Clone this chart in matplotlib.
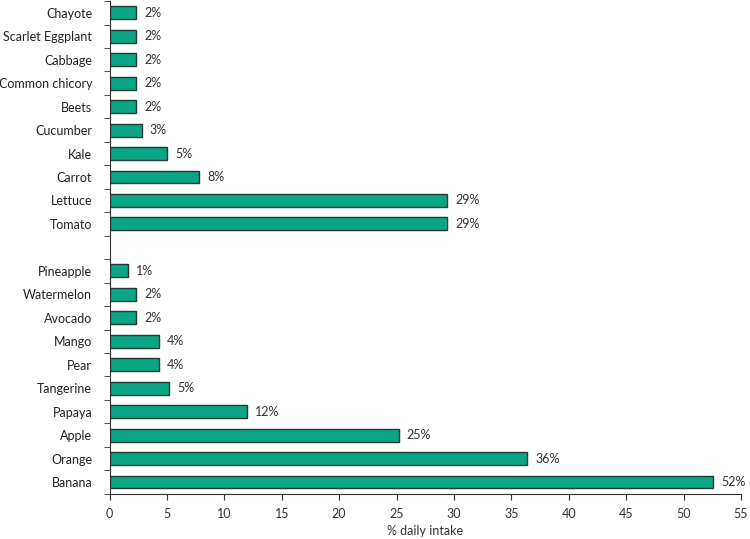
import numpy as np
import matplotlib.pyplot as plt

plt.rcParams['font.family'] = ['Lato', 'DejaVu Sans']

# fruits (bottom group), listed bottom to top
fruits = ['Banana', 'Orange', 'Apple', 'Papaya', 'Tangerine', 'Pear',
          'Mango', 'Avocado', 'Watermelon', 'Pineapple']
fruit_vals = [52.6, 36.4, 25.2, 12.0, 5.2, 4.3, 4.3, 2.3, 2.3, 1.6]
fruit_pct = ['52%', '36%', '25%', '12%', '5%', '4%', '4%', '2%', '2%', '1%']

# vegetables (top group), bottom to top
vegs = ['Tomato', 'Lettuce', 'Carrot', 'Kale', 'Cucumber', 'Beets',
        'Common chicory', 'Cabbage', 'Scarlet Eggplant', 'Chayote']
veg_vals = [29.4, 29.4, 7.8, 5.0, 2.8, 2.3, 2.3, 2.3, 2.3, 2.3]
veg_pct = ['29%', '29%', '8%', '5%', '3%', '2%', '2%', '2%', '2%', '2%']

xticks = np.arange(0, 56, 5)

names = fruits + vegs
vals = fruit_vals + veg_vals
pcts = fruit_pct + veg_pct
pos = list(range(len(fruits))) + [len(fruits) + 1 + i for i in range(len(vegs))]

fig = plt.figure(figsize=(7.5, 5.39), dpi=100)
ax = fig.add_axes([0.146, 0.084, 0.842, 0.914])

ax.barh(pos, vals, height=0.55, color='#0aa582', edgecolor='#1d3b33', linewidth=1)
for p, v, t in zip(pos, vals, pcts):
    ax.text(v + 0.7, p, t, va='center', ha='left', fontsize=9, color='#333333')

ax.set_yticks(pos)
ax.set_yticklabels(names, fontsize=9, color='#222222')
ax.tick_params(axis='y', which='major', length=0, pad=12.5)
ax.set_yticks(np.arange(-0.5, 21, 1), minor=True)
ax.tick_params(axis='y', which='minor', length=4, direction='out', color='#333333')
ax.set_ylim(-0.5, 20.5)

ax.set_xlim(0, 55)
ax.set_xticks(xticks)
ax.set_xticklabels([str(x) for x in xticks], fontsize=9, color='#333333')
ax.tick_params(axis='x', length=4, direction='out', color='#333333', pad=6)
ax.set_xlabel('% daily intake', fontsize=9, color='#333333', labelpad=4)

for s in ['top', 'right']:
    ax.spines[s].set_visible(False)
for s in ['left', 'bottom']:
    ax.spines[s].set_color('#333333')

plt.savefig('out.png', dpi=100)
